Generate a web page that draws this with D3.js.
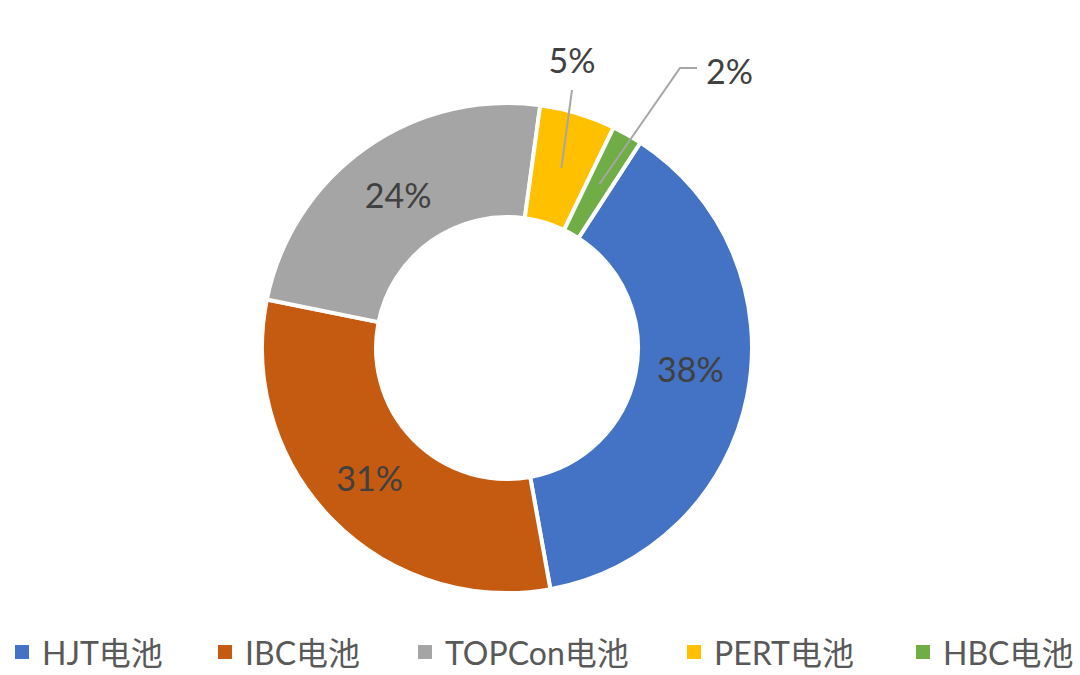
<!DOCTYPE html>
<html><head><meta charset="utf-8">
<script src="https://cdn.jsdelivr.net/npm/d3@7"></script>
<style>html,body{margin:0;padding:0;background:#fff;}svg{display:block;}</style>
</head><body>
<svg id="chart" width="1080" height="675"></svg>
<script>
const categories = ["HJT电池", "IBC电池", "TOPCon电池", "PERT电池", "HBC电池"];
const values = [38, 31, 24, 5, 2];
const labels = ["38%", "31%", "24%", "5%", "2%"];
const colors = ["#4472C4", "#C55A11", "#A5A5A5", "#FFC000", "#70AD47"];

const svg = d3.select("#chart");
const cx = 507, cy = 348, rOuter = 245, rInner = 131;
const font = "Lato, 'Noto Sans CJK SC', sans-serif";
const labelSize = 34;

const pie = d3.pie().sort(null).value(d => d)
  .startAngle(33 * Math.PI / 180).endAngle((33 + 360) * Math.PI / 180);
const arcs = pie(values);
const arc = d3.arc().innerRadius(rInner).outerRadius(rOuter);
const labelArc = d3.arc().innerRadius((rInner + rOuter) / 2).outerRadius((rInner + rOuter) / 2);
const insideShift = [[-1, -17], [-3, -2], [0, 0]];

const g = svg.append("g").attr("transform", `translate(${cx},${cy})`);
g.selectAll("path.slice").data(arcs).join("path")
  .attr("class", "slice")
  .attr("d", arc)
  .attr("fill", (d, i) => colors[i])
  .attr("stroke", "#fff")
  .attr("stroke-width", 4)
  .attr("stroke-linejoin", "round");

arcs.forEach((d, i) => {
  if (values[i] < 10) return;
  const [x, y] = labelArc.centroid(d);
  g.append("text")
    .attr("x", x + insideShift[i][0]).attr("y", y + insideShift[i][1])
    .attr("text-anchor", "middle")
    .attr("dominant-baseline", "central")
    .attr("font-family", font)
    .attr("font-size", labelSize)
    .attr("fill", "#404040")
    .text(labels[i]);
});

// PERT leader + label
{
  const d = arcs[3];
  const [x, y] = labelArc.centroid(d);
  const ex = 572 - cx, ey = 90 - cy;
  g.append("path")
    .attr("d", d3.line()([[x, y], [ex, ey]]))
    .attr("stroke", "#A6A6A6").attr("stroke-width", 2).attr("fill", "none");
  g.append("text")
    .attr("x", ex).attr("y", 73 - cy)
    .attr("text-anchor", "middle")
    .attr("font-family", font).attr("font-size", labelSize).attr("fill", "#404040")
    .text(labels[3]);
}
// HBC leader + label
{
  const d = arcs[4];
  const [x, y] = labelArc.centroid(d);
  g.append("path")
    .attr("d", d3.line()([[x, y], [680 - cx, 68 - cy], [697 - cx, 68 - cy]]))
    .attr("stroke", "#A6A6A6").attr("stroke-width", 2).attr("fill", "none");
  g.append("text")
    .attr("x", 706 - cx).attr("y", 84 - cy)
    .attr("text-anchor", "start")
    .attr("font-family", font).attr("font-size", labelSize).attr("fill", "#404040")
    .text(labels[4]);
}

// legend
const legendX = [15, 218, 418, 687, 916];
const lg = svg.append("g");
categories.forEach((c, i) => {
  const item = lg.append("g").attr("transform", `translate(${legendX[i]},652)`);
  item.append("rect").attr("x", 0).attr("y", -7).attr("width", 14).attr("height", 14).attr("fill", colors[i]);
  item.append("text").attr("x", 27).attr("y", 0)
    .attr("dominant-baseline", "central")
    .attr("font-family", font).attr("font-size", 32).attr("fill", "#595959")
    .text(c);
});
</script>
</body></html>
